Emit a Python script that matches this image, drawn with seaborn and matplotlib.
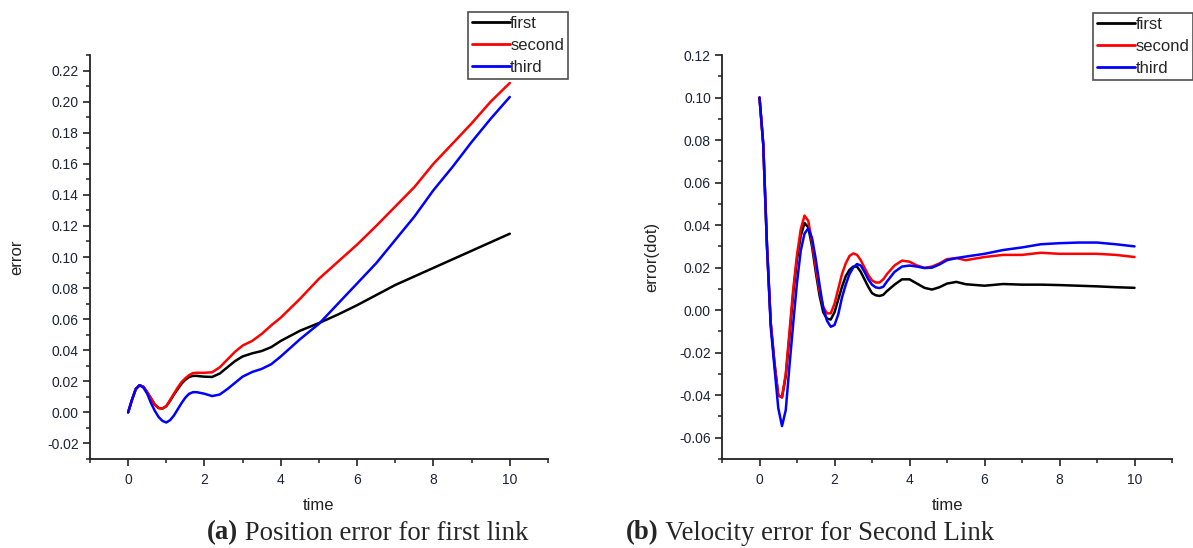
import matplotlib
matplotlib.use("Agg")
from matplotlib import pyplot as plt
from matplotlib.ticker import MultipleLocator
import seaborn as sns
import pandas as pd

##################### Data #################################
# (a) position error for first link
time_pos = [0, 0.1, 0.2, 0.3, 0.4, 0.5, 0.6, 0.7, 0.8, 0.9, 1.0, 1.1, 1.2, 1.3, 1.4,
            1.5, 1.6, 1.7, 1.8, 1.9, 2.0, 2.2, 2.4, 2.6, 2.8, 3.0, 3.25, 3.5, 3.75,
            4.0, 4.5, 5.0, 5.5, 6.0, 6.5, 7.0, 7.5, 8.0, 8.5, 9.0, 9.5, 10.0]
pos_first = [0.0, 0.008, 0.015, 0.0175, 0.0165, 0.013, 0.009, 0.005, 0.0028, 0.0025,
             0.004, 0.0075, 0.0115, 0.015, 0.0185, 0.021, 0.0228, 0.0235, 0.0235, 0.0232,
             0.023, 0.0228, 0.025, 0.029, 0.033, 0.036, 0.038, 0.0395, 0.042,
             0.046, 0.0525, 0.0575, 0.063, 0.069, 0.0755, 0.082, 0.0875, 0.093, 0.0985,
             0.104, 0.1095, 0.115]
pos_second = [0.0, 0.008, 0.015, 0.0175, 0.0165, 0.013, 0.009, 0.005, 0.0028, 0.0025,
              0.004, 0.008, 0.012, 0.016, 0.0195, 0.022, 0.024, 0.0253, 0.0255, 0.0255,
              0.0255, 0.0258, 0.029, 0.034, 0.039, 0.043, 0.046, 0.0505, 0.056,
              0.061, 0.073, 0.086, 0.097, 0.108, 0.12, 0.1325, 0.145, 0.16, 0.173,
              0.186, 0.2, 0.212]
pos_third = [0.0, 0.008, 0.015, 0.0175, 0.016, 0.012, 0.006, 0.001, -0.003, -0.0055,
             -0.0065, -0.005, -0.002, 0.002, 0.006, 0.0095, 0.012, 0.013, 0.013, 0.0125,
             0.012, 0.0105, 0.0115, 0.015, 0.019, 0.023, 0.026, 0.028, 0.031,
             0.036, 0.047, 0.057, 0.07, 0.083, 0.096, 0.111, 0.126, 0.143, 0.158,
             0.174, 0.189, 0.203]

# (b) velocity error for second link
time_vel = [0, 0.1, 0.2, 0.3, 0.4, 0.5, 0.6, 0.7, 0.8, 0.9, 1.0, 1.1, 1.2, 1.3, 1.4,
            1.5, 1.6, 1.7, 1.8, 1.9, 2.0, 2.1, 2.2, 2.3, 2.4, 2.5, 2.6, 2.7, 2.8, 2.9,
            3.0, 3.1, 3.2, 3.3, 3.4, 3.6, 3.8, 4.0, 4.2, 4.4, 4.6, 4.8, 5.0, 5.25, 5.5,
            6.0, 6.5, 7.0, 7.5, 8.0, 8.5, 9.0, 9.5, 10.0]
vel_first = [0.1, 0.078, 0.03, -0.006, -0.025, -0.040, -0.041, -0.031, -0.012, 0.008,
             0.024, 0.035, 0.041, 0.039, 0.030, 0.018, 0.007, -0.001, -0.004, -0.0044,
             -0.001, 0.005, 0.011, 0.016, 0.019, 0.0205, 0.0205, 0.018, 0.0145, 0.011,
             0.008, 0.007, 0.0067, 0.0072, 0.009, 0.012, 0.0145, 0.0145, 0.0125, 0.0105,
             0.0097, 0.0108, 0.0125, 0.0133, 0.0122, 0.0115, 0.0123, 0.012, 0.012,
             0.0118, 0.0115, 0.0112, 0.0108, 0.0105]
vel_second = [0.1, 0.078, 0.03, -0.006, -0.025, -0.040, -0.041, -0.030, -0.010, 0.010,
              0.026, 0.038, 0.0445, 0.042, 0.032, 0.020, 0.009, 0.0015, -0.0015, -0.0015,
              0.003, 0.010, 0.017, 0.022, 0.0255, 0.0267, 0.026, 0.0235, 0.020, 0.0165,
              0.014, 0.013, 0.013, 0.0145, 0.017, 0.021, 0.0233, 0.0228, 0.021, 0.0199,
              0.0205, 0.022, 0.024, 0.0245, 0.0235, 0.025, 0.026, 0.026, 0.027,
              0.0265, 0.0265, 0.0265, 0.026, 0.025]
vel_third = [0.1, 0.078, 0.03, -0.008, -0.027, -0.046, -0.0545, -0.047, -0.026, -0.006,
             0.013, 0.028, 0.036, 0.0385, 0.034, 0.024, 0.012, 0.001, -0.005, -0.0078,
             -0.007, -0.002, 0.006, 0.012, 0.017, 0.020, 0.0217, 0.021, 0.018, 0.0145,
             0.012, 0.0107, 0.0104, 0.011, 0.0135, 0.018, 0.0205, 0.021, 0.0205, 0.0198,
             0.020, 0.0215, 0.0235, 0.0245, 0.0252, 0.0265, 0.0283, 0.0295, 0.031,
             0.0315, 0.0318, 0.0318, 0.031, 0.030]

series_names = ["first", "second", "third"]
series_colors = {"first": "black", "second": "red", "third": "blue"}

##################### Plot Functions #################################
def long_form(time_a, vals_a):
    df_arr = []
    for name, vals in zip(series_names, vals_a):
        df_arr.append(pd.DataFrame({"time": time_a, "value": vals, "series": name}))
    return pd.concat(df_arr)

def draw_panel(ax, data, ylabel, ylim, ymajor, ylabel_x, legend_anchor):
    sns.lineplot(data=data, x="time", y="value", hue="series", palette=series_colors,
                 linewidth=1.8, ax=ax, legend=False, sort=False, estimator=None)
    ax.set_xlim(-1, 11)
    ax.set_ylim(*ylim)
    ax.xaxis.set_major_locator(MultipleLocator(2))
    ax.xaxis.set_minor_locator(MultipleLocator(1))
    ax.yaxis.set_major_locator(MultipleLocator(ymajor))
    ax.yaxis.set_minor_locator(MultipleLocator(ymajor / 2))
    ax.yaxis.set_major_formatter(plt.FuncFormatter(lambda v, p: "%.2f" % v))
    for s in ["top", "right"]:
        ax.spines[s].set_visible(False)
    for s in ["left", "bottom"]:
        ax.spines[s].set_color("#222222")
        ax.spines[s].set_linewidth(1.3)
    ax.tick_params(which="both", bottom=True, left=True, top=False, right=False)
    ax.tick_params(which="major", direction="out", length=5, width=1.2, colors="#222222",
                   labelsize=10, labelcolor="#1c2438", pad=3)
    ax.tick_params(axis="x", which="major", pad=5)
    ax.tick_params(which="minor", direction="out", length=3, width=1.1, colors="#222222")
    ax.set_xlabel("time", fontsize=12, color="#222222")
    ax.set_ylabel(ylabel, fontsize=12, color="#222222")
    ax.xaxis.set_label_coords(0.5, -0.097)
    ax.yaxis.set_label_coords(ylabel_x, 0.5)
    handles = [plt.Line2D([], [], color=series_colors[n], lw=2) for n in series_names]
    leg = ax.figure.legend(handles, series_names, loc="upper left", bbox_to_anchor=legend_anchor,
                           fontsize=12, frameon=True, fancybox=False, shadow=False,
                           handlelength=2.3, handletextpad=0.0, labelspacing=0.42,
                           borderpad=0.25, borderaxespad=0)
    leg.get_frame().set_edgecolor("#222222")
    leg.get_frame().set_linewidth(1.2)

def caption(fig, x, y, tag, text):
    t1 = fig.text(x, y, tag, fontsize=19.3, fontweight="bold", family="Liberation Serif",
                  va="center", ha="left")
    fig.canvas.draw()
    bb = t1.get_window_extent().transformed(fig.transFigure.inverted())
    fig.text(bb.x1, y, " " + text, fontsize=19.3, family="Liberation Serif",
             va="center", ha="left")

###################### MAIN ################################################
sns.set_style("white")
plt.rcParams["font.family"] = ["Liberation Sans", "DejaVu Sans"]

fig = plt.figure(figsize=(11.93, 5.48), dpi=100)
ax_a = fig.add_axes([0.0754, 0.1624, 0.3839, 0.7372])
ax_b = fig.add_axes([0.6052, 0.1624, 0.3772, 0.7372])

draw_panel(ax_a, long_form(time_pos, [pos_first, pos_second, pos_third]), "error",
           (-0.03, 0.23), 0.02, -0.144, (0.392, 0.978))
draw_panel(ax_b, long_form(time_vel, [vel_first, vel_second, vel_third]), "error(dot)",
           (-0.07, 0.12), 0.02, -0.14, (0.916, 0.976))

caption(fig, 207 / 1193, 1 - 533 / 548, "(a)", "Position error for first link")
caption(fig, 626 / 1193, 1 - 533 / 548, "(b)", "Velocity error for Second Link")

fig.savefig("out.png", dpi=100)
